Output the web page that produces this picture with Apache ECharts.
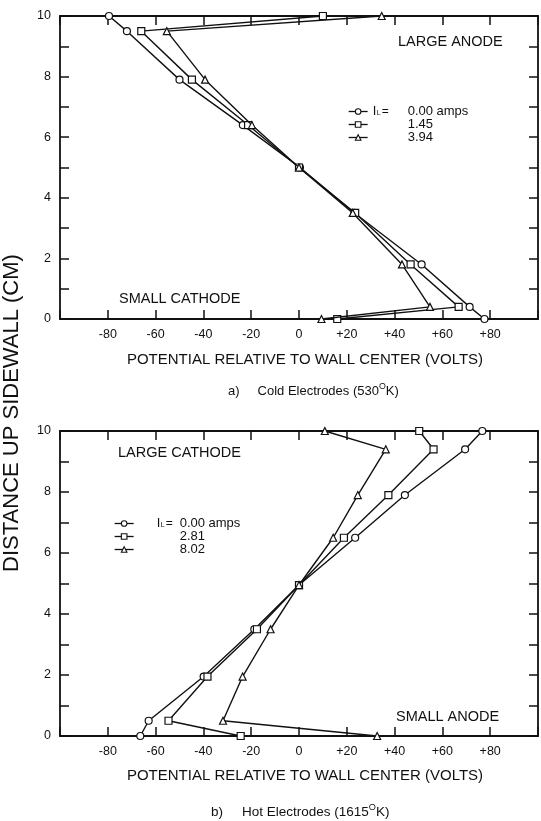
<!DOCTYPE html>
<html><head><meta charset="utf-8">
<script src="https://cdn.jsdelivr.net/npm/echarts@6/dist/echarts.min.js"></script>
<style>html,body{margin:0;padding:0;background:#fff}#c{width:541px;height:821px}</style>
</head><body><div id="c"></div>
<script>
// ---- data: (a) cold electrodes ----
const heightsA = [10, 9.5, 7.9, 6.4, 5.0, 3.5, 1.8, 0.4, 0];
const coldI000 = [-79.5, -72, -50, -23.5, 0.4, 23.2, 51.3, 71.4, 77.6];
const coldI145 = [10, -66, -44.8, -21.3, 0, 23.5, 46.7, 66.8, 16];
const coldI394 = [34.6, -55.3, -39.3, -19.7, 0, 22.5, 43.1, 54.8, 9.4];
const currentsA = ['0.00 amps', '1.45', '3.94'];
// ---- data: (b) hot electrodes ----
const heightsB = [10, 9.4, 7.9, 6.5, 4.95, 3.5, 1.95, 0.5, 0];
const hotI000 = [76.7, 69.5, 44.3, 23.5, 0, -18.7, -39.9, -62.9, -66.4];
const hotI281 = [50.3, 56.3, 37.4, 18.8, 0, -17.6, -38.3, -54.6, -24.4];
const hotI802 = [10.8, 36.3, 24.6, 14.3, 0, -11.9, -23.6, -31.8, 32.7];
const currentsB = ['0.00 amps', '2.81', '8.02'];
// ---- axis ticks / text ----
const xMin = -100, xMax = 100, xStep = 20;
const yMin = 0, yMax = 10, yStep = 1;
const xTitle = 'POTENTIAL RELATIVE TO WALL CENTER (VOLTS)';
const yTitle = 'DISTANCE UP SIDEWALL (CM)';

const FONT = '"Liberation Sans", Arial, Helvetica, sans-serif';
const INK = '#111';
const symbols = ['circle', 'rect', 'triangle'];

function pairs(xs, ys) { return xs.map((x, i) => [x, ys[i]]); }
function xFmt(v) { if (Math.abs(v) >= 100) return ''; return v > 0 ? '+' + v : String(v); }

function xAxes(gi) {
  const common = {
    gridIndex: gi, type: 'value', min: xMin, max: xMax, interval: xStep,
    axisLine: { show: true, onZero: false, lineStyle: { color: INK, width: 1.8 } },
    axisTick: { show: true, inside: true, length: 9, lineStyle: { color: INK, width: 1.5 } },
    splitLine: { show: false }
  };
  return [
    Object.assign({}, common, { position: 'bottom',
      axisLabel: { show: true, formatter: xFmt, color: INK, fontSize: 12.5, fontFamily: FONT, margin: 9 } }),
    Object.assign({}, common, { position: 'top', axisLabel: { show: false } })
  ];
}
function yAxes(gi) {
  const common = {
    gridIndex: gi, type: 'value', min: yMin, max: yMax, interval: yStep,
    axisLine: { show: true, onZero: false, lineStyle: { color: INK, width: 1.8 } },
    axisTick: { show: true, inside: true, length: 9, lineStyle: { color: INK, width: 1.5 } },
    splitLine: { show: false }
  };
  return [
    Object.assign({}, common, { position: 'left',
      axisLabel: { show: true, formatter: v => (v % 2 === 0 ? String(v) : ''), color: INK, fontSize: 12.5, fontFamily: FONT, margin: 9 } }),
    Object.assign({}, common, { position: 'right', axisLabel: { show: false } })
  ];
}

function makeSeries(prefix, gi, heights, sets) {
  return sets.map((xs, k) => ({
    name: prefix + k, type: 'line', xAxisIndex: gi * 2, yAxisIndex: gi * 2,
    data: pairs(xs, heights), symbol: symbols[k], symbolSize: 7,
    itemStyle: { color: '#fff', borderColor: INK, borderWidth: 1.2 },
    lineStyle: { color: INK, width: 1.4 }, z: 3 + k
  }));
}

const series = [].concat(
  makeSeries('a', 0, heightsA, [coldI000, coldI145, coldI394]),
  makeSeries('b', 1, heightsB, [hotI000, hotI281, hotI802])
);

function legendCfg(prefix, labels, left, top, pre, lh) {
  const rich = {
    s: { width: pre[0], fontSize: 13, lineHeight: lh, fontFamily: FONT, color: INK },
    i: { width: 4, fontSize: 13, lineHeight: lh, fontFamily: FONT, color: INK },
    l: { width: 5, fontSize: 7, lineHeight: lh, fontFamily: FONT, color: INK, verticalAlign: 'bottom' },
    e: { width: pre[1], fontSize: 12, lineHeight: lh, fontFamily: FONT, color: INK },
    g: { width: pre[0] + 4 + 5 + pre[1], fontSize: 13, lineHeight: lh, fontFamily: FONT, color: INK },
    v: { fontSize: 13, lineHeight: lh, fontFamily: FONT, color: INK }
  };
  return {
    data: labels.map((_, k) => prefix + k), orient: 'vertical', left: left, top: top,
    itemWidth: 19, itemHeight: 7, itemGap: 0, padding: 0, selectedMode: false,
    itemStyle: { color: '#fff', borderColor: INK, borderWidth: 1.1 },
    lineStyle: { color: INK, width: 1.3 },
    formatter: name => {
      const k = Number(name.slice(1));
      return k === 0 ? '{s| }{i|I}{l|L}{e|=}{v|' + labels[0] + '}' : '{g| }{v|' + labels[k] + '}';
    },
    textStyle: { fontSize: 13, lineHeight: lh, fontFamily: FONT, color: INK, rich: rich }
  };
}

function txt(x, y, text, size, align) {
  const a = align || 'left';
  return { type: 'text', x: x, y: y, silent: true,
    style: { text: text, fill: INK, font: size + 'px ' + FONT,
      textAlign: a, textVerticalAlign: 'middle', align: a, verticalAlign: 'middle' } };
}
function caption(x, y, lab, body, sup, tail, size, gap) {
  const base = { fontSize: size, fontFamily: FONT, fill: INK, lineHeight: size + 4 };
  return { type: 'text', x: x, y: y, silent: true,
    style: { text: '{n|' + lab + '}{gp| }{n|' + body + '}{s|' + sup + '}{n|' + tail + '}',
      fill: INK, font: size + 'px ' + FONT, textAlign: 'left', textVerticalAlign: 'middle', align: 'left', verticalAlign: 'middle',
      rich: { n: base, gp: Object.assign({}, base, { width: gap }),
              s: { fontSize: size * 0.68, fontFamily: FONT, fill: INK, lineHeight: size + 4, verticalAlign: 'top' } } } };
}

const option = {
  animation: false,
  backgroundColor: '#fff',
  grid: [
    { left: 60, top: 16, width: 480, height: 303 },
    { left: 60, top: 431, width: 480, height: 305 }
  ],
  xAxis: [].concat(xAxes(0), xAxes(1)),
  yAxis: [].concat(yAxes(0), yAxes(1)),
  legend: [
    legendCfg('a', currentsA, 348, 105, [0, 26], 10.5),
    legendCfg('b', currentsB, 114, 517, [18, 14], 11)
  ],
  series: series,
  graphic: [
    txt(398, 42, 'LARGE ANODE', 14.5),
    txt(119, 299, 'SMALL CATHODE', 14.5),
    txt(118, 453, 'LARGE CATHODE', 14.5),
    txt(396, 717, 'SMALL ANODE', 14.5),
    txt(305, 360, xTitle, 15, 'center'),
    txt(305, 776, xTitle, 15, 'center'),
    caption(228, 391, 'a)', 'Cold Electrodes (530', 'O', 'K)', 13, 18),
    caption(211, 812, 'b)', 'Hot Electrodes (1615', 'O', 'K)', 13.5, 19),
    { type: 'text', x: 12, y: 413, rotation: Math.PI / 2, silent: true,
      style: { text: yTitle, fill: INK, font: '22px ' + FONT, textAlign: 'center', textVerticalAlign: 'middle', align: 'center', verticalAlign: 'middle' } }
  ]
};

const chart = echarts.init(document.getElementById('c'), null, { renderer: 'canvas' });
chart.setOption(option);
</script>
</body></html>
